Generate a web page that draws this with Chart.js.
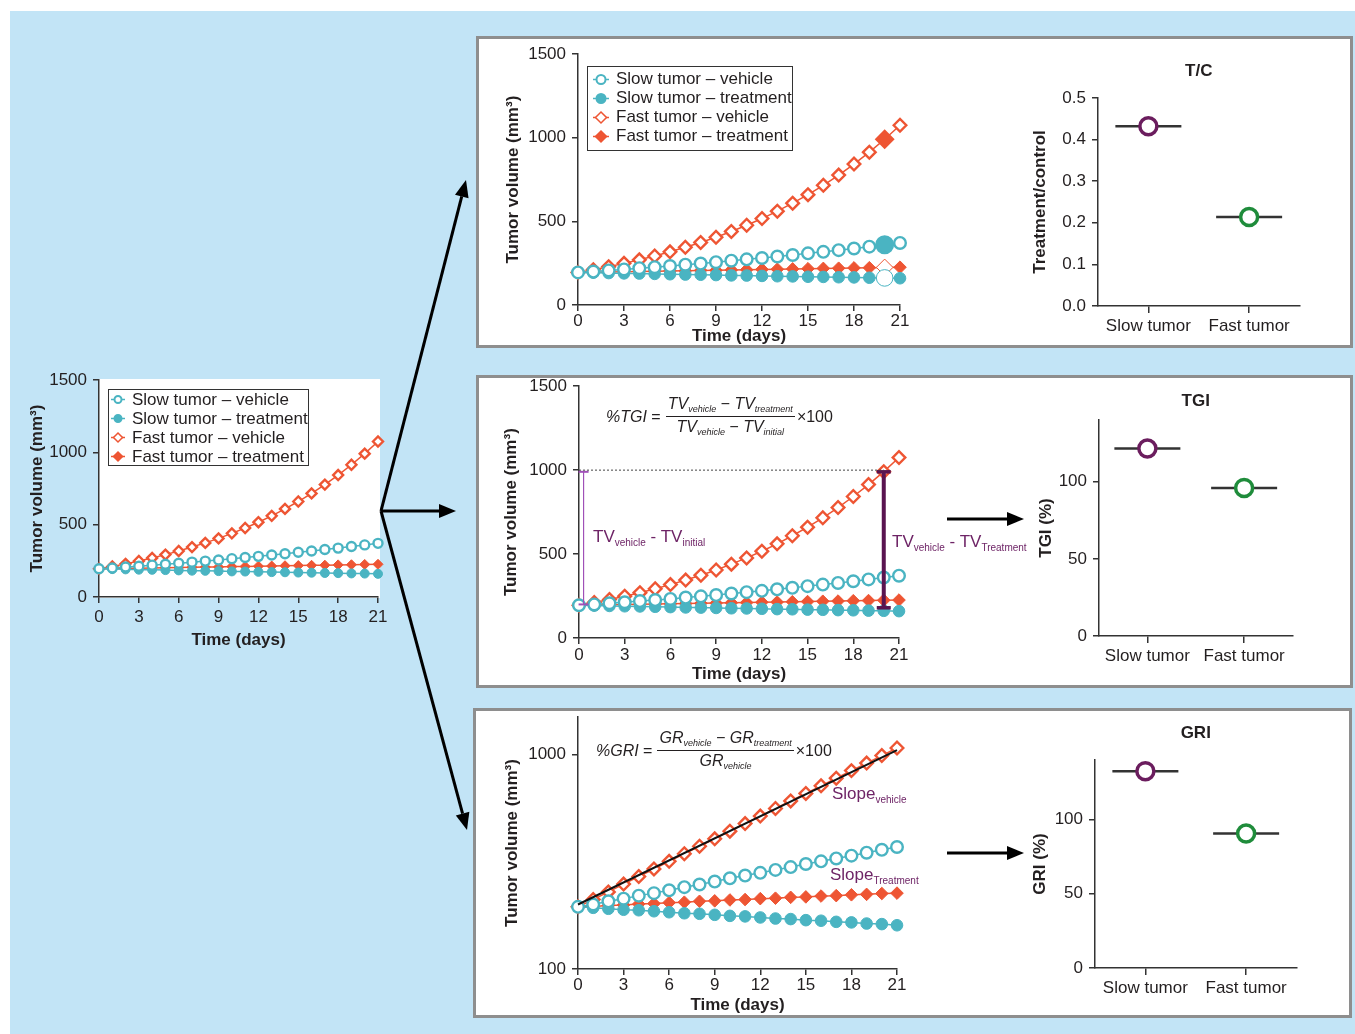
<!DOCTYPE html>
<html>
<head>
<meta charset="utf-8">
<title>Tumor growth metrics</title>
<script src="https://cdn.jsdelivr.net/npm/chart.js@4.4.1/dist/chart.umd.min.js"></script>
<style>
  body { margin: 0; width: 1355px; height: 1034px; position: relative; background: #fff; overflow: hidden;
         font-family: "Liberation Sans", Arial, sans-serif; color: #231f20; }
  #bg { position: absolute; left: 10px; top: 11px; width: 1345px; height: 1023px; background: #c2e4f6; }
  .panel { position: absolute; box-sizing: border-box; background: #fff; border: 3px solid #8e8e8e; }
  canvas { position: absolute; }
  .legend { position: absolute; box-sizing: border-box; background: #fff; border: 1px solid #333; font-size: 17px; }
  .legend .row { height: 19px; display: flex; align-items: center; white-space: nowrap; }
  .legend svg { margin-right: 7px; flex: none; }
  .formula { position: absolute; display: flex; align-items: center; font-size: 16px; white-space: nowrap; }
  .frac { display: inline-flex; flex-direction: column; align-items: center; margin: 0 2px 0 5px; font-style: italic; }
  .frac .num { border-bottom: 1px solid #231f20; padding: 0 2px 1px; line-height: 18px; }
  .frac .den { line-height: 18px; padding-top: 1px; }
  sub { font-size: 9px; vertical-align: baseline; position: relative; top: 3px; }
  .note { position: absolute; font-size: 17px; color: #6e2466; white-space: nowrap; line-height: 20px; }
  .note sub { font-size: 10px; top: 4px; }
  svg.arrows { position: absolute; left: 0; top: 0; }
</style>
</head>
<body>
<div id="bg"></div>
<div class="panel" style="left:476px;top:36px;width:877px;height:312px"></div>
<div class="panel" style="left:476px;top:375px;width:877px;height:313px"></div>
<div class="panel" style="left:473px;top:708px;width:879px;height:310px"></div>
<div id="charts"></div>

<div class="formula" style="left:606px;top:395px">
  <span><i>%TGI</i> =</span>
  <span class="frac">
    <span class="num">TV<sub>vehicle</sub> − TV<sub>treatment</sub></span>
    <span class="den">TV<sub>vehicle</sub> − TV<sub>initial</sub></span>
  </span>
  <span>×100</span>
</div>
<div class="formula" style="left:596px;top:729px">
  <span><i>%GRI</i> =</span>
  <span class="frac">
    <span class="num">GR<sub>vehicle</sub> − GR<sub>treatment</sub></span>
    <span class="den">GR<sub>vehicle</sub></span>
  </span>
  <span>×100</span>
</div>
<div class="note" style="left:593px;top:527px">TV<sub>vehicle</sub> - TV<sub>initial</sub></div>
<div class="note" style="left:892px;top:532px">TV<sub>vehicle</sub> - TV<sub>Treatment</sub></div>
<div class="note" style="left:832px;top:784px">Slope<sub>vehicle</sub></div>
<div class="note" style="left:830px;top:865px">Slope<sub>Treatment</sub></div>

<svg class="arrows" id="arrows" width="1355" height="1034"></svg>

<script>
// values
const days = [0, 1, 2, 3, 4, 5, 6, 7, 8, 9, 10, 11, 12, 13, 14, 15, 16, 17, 18, 19, 20, 21];
const slowVehicle = [195, 200, 207, 213, 220, 226, 233, 241, 248, 256, 265, 273, 281, 290, 299, 309, 318, 328, 338, 349, 360, 371];
const slowTreatment = [195, 193, 191, 189, 188, 186, 184, 182, 181, 179, 177, 176, 174, 172, 171, 169, 168, 166, 165, 163, 162, 160];
const fastVehicle = [195, 211, 229, 249, 270, 293, 318, 345, 374, 405, 440, 477, 517, 561, 609, 660, 716, 777, 843, 914, 991, 1075];
const fastTreatment = [195, 196, 198, 199, 201, 202, 204, 205, 207, 208, 210, 211, 213, 214, 216, 217, 219, 220, 222, 223, 225, 226];

const groups = ['Slow tumor', 'Fast tumor'];
const tcValues = [0.432, 0.214];
const tgiValues = [121.5, 96];
const griValues = [132.5, 90.5];

const dayTicks = [0, 3, 6, 9, 12, 15, 18, 21];
const volumeTicks = [0, 500, 1000, 1500];
const logTicks = [100, 1000];
const tcTicks = [0, 0.1, 0.2, 0.3, 0.4, 0.5];
const pctTicks = [0, 50, 100];

const highlightDay = 20;
const tgiLevel = [1000, 1000];        // dotted reference level
const tgiLevelDays = [0, 20];
const tgiInitialBar = [200, 990];     // TV vehicle - TV initial
const tgiTreatBar = [180, 990];       // TV vehicle - TV treatment
const griFit = [200, 1050];           // fitted vehicle slope, day 0 and day 21

const TEAL = '#4ab4c2';
const ORANGE = '#ee5533';
const PURPLE = '#6b1d5e';
const GREEN = '#1f8c3b';
const AXIS = '#333';
const TXT = '#231f20';
const FS = 17;
const HALF_LINE = FS * 1.2 / 2;

Chart.defaults.font.family = '"Liberation Sans", Arial, sans-serif';
Chart.defaults.font.size = FS;
Chart.defaults.color = TXT;
Chart.defaults.animation = false;

const seriesDefs = [
  {label: 'Slow tumor – vehicle', values: slowVehicle, color: TEAL, style: 'circle', open: true},
  {label: 'Slow tumor – treatment', values: slowTreatment, color: TEAL, style: 'circle', open: false},
  {label: 'Fast tumor – vehicle', values: fastVehicle, color: ORANGE, style: 'rectRot', open: true},
  {label: 'Fast tumor – treatment', values: fastTreatment, color: ORANGE, style: 'rectRot', open: false}
];

function makeSeries(r, highlight) {
  return seriesDefs.map(s => {
    const hl = i => highlight && i === highlightDay;
    return {
      label: s.label,
      data: days.map((d, i) => ({x: d, y: s.values[i]})),
      borderColor: s.color,
      borderWidth: 1.5,
      pointStyle: s.style,
      pointRadius: c => hl(c.dataIndex) ? r + 2.5 : (s.style === 'rectRot' ? r + 0.5 : r),
      pointBorderColor: s.color,
      pointBorderWidth: s.open ? 2.4 : 1,
      pointBackgroundColor: c => (s.open !== hl(c.dataIndex)) ? '#fff' : s.color,
      clip: false
    };
  });
}

const fixedTicks = list => s => { s.ticks = list.map(v => ({value: v})); };
const tickFont = {size: FS};
const titleFont = {size: FS, weight: 'bold'};

function dayAxis(xH, pad) {
  return {
    type: 'linear', min: 0, max: 21,
    afterBuildTicks: fixedTicks(dayTicks),
    afterFit: s => { s.height = xH; },
    grid: {drawOnChartArea: false, tickLength: 6, color: AXIS, lineWidth: 1.5},
    border: {color: AXIS, width: 1.5},
    ticks: {font: tickFont, color: TXT, padding: pad, maxRotation: 0, autoSkip: false, callback: v => String(v)},
    title: {display: true, text: 'Time (days)', font: titleFont, color: TXT, padding: 0}
  };
}

function valueAxis(type, min, max, list, yW, title, fmt) {
  return {
    type: type, min: min, max: max,
    afterBuildTicks: fixedTicks(list),
    afterFit: s => { s.width = yW; },
    grid: {drawOnChartArea: false, tickLength: 6, color: AXIS, lineWidth: 1.5},
    border: {color: AXIS, width: 1.5},
    ticks: {font: tickFont, color: TXT, padding: 6, autoSkip: false, callback: fmt || (v => String(v))},
    title: {display: true, text: title, font: titleFont, color: TXT, padding: 0}
  };
}

function groupAxis(xH, pad) {
  return {
    type: 'category', offset: true,
    afterFit: s => { s.height = xH; },
    grid: {drawOnChartArea: false, tickLength: 7, color: AXIS, lineWidth: 1.5},
    border: {color: AXIS, width: 1.5},
    ticks: {font: tickFont, color: TXT, padding: pad, maxRotation: 0}
  };
}

// box = [left, top, width, height] of the canvas, area = [left, top, right, bottom] of the plot
function addChart(box, area, yW, xH, topUsed, config) {
  const c = document.createElement('canvas');
  c.width = box[2];
  c.height = box[3];
  c.style.left = box[0] + 'px';
  c.style.top = box[1] + 'px';
  document.getElementById('charts').appendChild(c);
  config.options.responsive = false;
  config.options.events = [];
  config.options.layout = {padding: {
    left: area[0] - box[0] - yW,
    top: area[1] - box[1] - topUsed,
    right: box[0] + box[2] - area[2],
    bottom: box[1] + box[3] - area[3] - xH
  }};
  return new Chart(c, config);
}

const noPlugins = {legend: {display: false}, tooltip: {enabled: false}};

const whitePlot = {
  id: 'whitePlot',
  beforeDraw(chart) {
    const a = chart.chartArea, ctx = chart.ctx;
    ctx.save();
    ctx.fillStyle = '#fff';
    ctx.fillRect(a.left - 1, a.top - 1, a.right - a.left + 3, a.bottom - a.top + 2);
    ctx.restore();
  }
};

// left overview chart
addChart([10, 360, 390, 300], [99, 380, 378, 597], 72, 54, 0, {
  type: 'line',
  data: {datasets: makeSeries(4.5, false)},
  options: {
    plugins: noPlugins,
    scales: {
      x: dayAxis(54, 4),
      y: valueAxis('linear', 0, 1500, volumeTicks, 72, 'Tumor volume (mm³)')
    }
  },
  plugins: [whitePlot]
});

// T/C panel
addChart([480, 38, 440, 312], [578, 53, 900, 305], 75, 42, 0, {
  type: 'line',
  data: {datasets: makeSeries(5.8, true)},
  options: {
    plugins: noPlugins,
    scales: {
      x: dayAxis(42, 0),
      y: valueAxis('linear', 0, 1500, volumeTicks, 75, 'Tumor volume (mm³)')
    }
  }
});

// the category axis keeps ~35px on the right for its last label, so the canvas ends 35px past the plot
function dotChart(area, yW, titleY, title, values, yMin, yMax, ticks, yTitle, fmt) {
  const box = [area[0] - yW - 6, titleY - 22, yW + 6 + (area[2] - area[0]) + 35, area[3] + 45 - (titleY - 22)];
  const padTop = titleY - HALF_LINE - box[1];
  const titleBottom = area[1] - titleY - HALF_LINE;
  return addChart(box, area, yW, 35, area[1] - box[1] - padTop, {
    type: 'line',
    data: {
      labels: groups,
      datasets: [
        {data: values, showLine: false, pointStyle: 'circle', pointRadius: 8.5, pointBorderWidth: 3.5,
         pointBorderColor: [PURPLE, GREEN], pointBackgroundColor: '#fff', order: 0, clip: false},
        {data: values, showLine: false, pointStyle: 'line', pointRadius: 33, pointBorderWidth: 2.5,
         pointBorderColor: '#333', order: 1, clip: false}
      ]
    },
    options: {
      plugins: {
        legend: {display: false}, tooltip: {enabled: false},
        title: {display: true, text: title, fullSize: false, font: titleFont, color: TXT,
                padding: {top: 0, bottom: titleBottom}}
      },
      scales: {
        x: groupAxis(35, 3),
        y: valueAxis('linear', yMin, yMax, ticks, yW, yTitle, fmt)
      }
    }
  });
}

dotChart([1098, 98, 1300, 306], 68, 71, 'T/C', tcValues, 0, 0.5, tcTicks,
         'Treatment/control', v => v.toFixed(1));

// TGI panel
const tgiSets = [
  {data: tgiLevelDays.map((d, i) => ({x: d, y: tgiLevel[i]})), borderColor: '#444', borderWidth: 1,
   borderDash: [2, 2], pointRadius: 0, clip: false},
  {data: tgiInitialBar.map(v => ({x: 0.3, y: v})), borderColor: '#a050b8', borderWidth: 1.2,
   pointStyle: 'line', pointRadius: 5, pointBorderWidth: 2, pointBorderColor: '#a050b8', clip: false},
  {data: tgiTreatBar.map(v => ({x: 20, y: v})), borderColor: '#5a1450', borderWidth: 4,
   pointStyle: 'line', pointRadius: 7, pointBorderWidth: 3.5, pointBorderColor: '#5a1450', clip: false}
].concat(makeSeries(5.8, false));

addChart([485, 370, 435, 318], [579, 386, 899, 638], 78, 47, 0, {
  type: 'line',
  data: {datasets: tgiSets},
  options: {
    plugins: noPlugins,
    scales: {
      x: dayAxis(47, 1),
      y: valueAxis('linear', 0, 1500, volumeTicks, 78, 'Tumor volume (mm³)')
    }
  }
});

dotChart([1099, 420, 1293, 636], 63, 401, 'TGI', tgiValues, 0, 140, pctTicks, 'TGI (%)');

// GRI panel
const griSets = [
  {data: [{x: 0, y: griFit[0]}, {x: 21, y: griFit[1]}], borderColor: '#111', borderWidth: 2, pointRadius: 0, clip: false}
].concat(makeSeries(5.8, false));

addChart([485, 700, 430, 320], [578, 717, 897, 969], 76, 47, 0, {
  type: 'line',
  data: {datasets: griSets},
  options: {
    plugins: noPlugins,
    scales: {
      x: dayAxis(47, 0),
      y: valueAxis('logarithmic', 100, 1500, logTicks, 76, 'Tumor volume (mm³)')
    }
  }
});

dotChart([1095, 760, 1297, 968], 65, 733, 'GRI', griValues, 0, 140, pctTicks, 'GRI (%)');

// legends
function legend(left, top, w, h, padL, padT, lineLen, r) {
  const d = document.createElement('div');
  d.className = 'legend';
  d.style.cssText = `left:${left}px;top:${top}px;width:${w}px;height:${h}px;padding:${padT}px 0 0 ${padL}px`;
  seriesDefs.forEach(s => {
    const m = lineLen / 2, fill = s.open ? '#fff' : s.color;
    const mark = s.style === 'circle'
      ? `<circle cx="${m}" cy="9.5" r="${r}" fill="${fill}" stroke="${s.color}" stroke-width="2"/>`
      : `<polygon points="${m},${9.5 - r - 1} ${m + r + 1},9.5 ${m},${9.5 + r + 1} ${m - r - 1},9.5" fill="${fill}" stroke="${s.color}" stroke-width="1.5"/>`;
    const row = document.createElement('div');
    row.className = 'row';
    row.innerHTML = `<svg width="${lineLen}" height="19"><line x1="0" y1="9.5" x2="${lineLen}" y2="9.5" stroke="${s.color}" stroke-width="1.5"/>${mark}</svg><span>${s.label}</span>`;
    d.appendChild(row);
  });
  document.body.appendChild(d);
}
legend(108, 389, 201, 77, 2, 0, 14, 3.5);
legend(587, 66, 206, 85, 5, 2.5, 16, 4.5);

// connecting arrows
const svg = document.getElementById('arrows');
function arrow(x1, y1, x2, y2) {
  const dx = x2 - x1, dy = y2 - y1, L = Math.hypot(dx, dy), ux = dx / L, uy = dy / L;
  const hl = 17, hw = 7, bx = x2 - ux * hl, by = y2 - uy * hl;
  svg.insertAdjacentHTML('beforeend',
    `<line x1="${x1}" y1="${y1}" x2="${bx}" y2="${by}" stroke="#000" stroke-width="3"/>` +
    `<polygon points="${x2},${y2} ${bx - uy * hw},${by + ux * hw} ${bx + uy * hw},${by - ux * hw}" fill="#000"/>`);
}
arrow(381, 511, 466, 180);
arrow(381, 511, 456, 511);
arrow(381, 511, 467, 830);
arrow(947, 519, 1024, 519);
arrow(947, 853, 1024, 853);
</script>
</body>
</html>
